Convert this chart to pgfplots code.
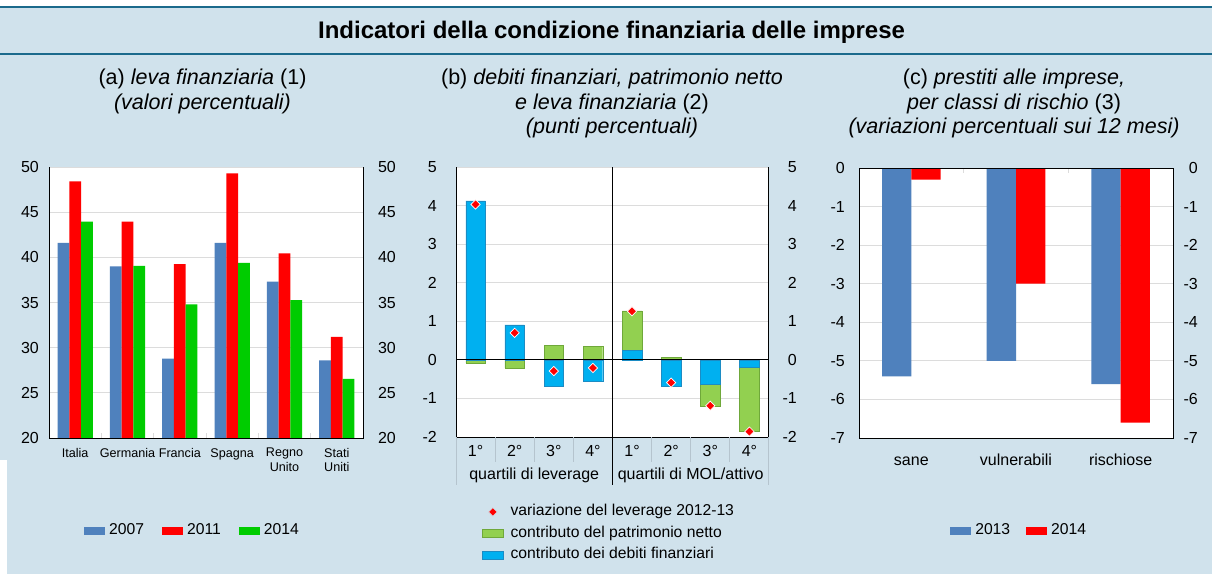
\documentclass[border=0pt]{standalone}
\usepackage{fontspec}
\setmainfont{Liberation Sans}
\usepackage{pgfplots}
\pgfplotsset{compat=1.18}
\definecolor{bgc}{HTML}{D0E2EC}
\definecolor{hdrc}{HTML}{1B6A8C}
\definecolor{aBlue}{HTML}{4F81BD}
\definecolor{aRed}{HTML}{FF0000}
\definecolor{aGreen}{HTML}{00CC00}
\definecolor{bGreen}{HTML}{92D050}
\definecolor{bGreenD}{HTML}{6FA83A}
\definecolor{bBlue}{HTML}{00B0F0}
\definecolor{bBlueD}{HTML}{1C8CC4}
\definecolor{gridc}{HTML}{DCDCDC}
\definecolor{tabc}{HTML}{B5C4CE}
\newcommand\tickfont{\fontsize{16}{19}\selectfont}
\newcommand\legfont{\fontsize{15.7}{19}\selectfont}
\newcommand\subfont{\fontsize{21.5}{24.5}\selectfont}
\pgfplotsset{
  base/.style={scale only axis, anchor=south west,
    axis background/.style={fill=white},
    axis line style={draw=none}, major tick length=0pt,
    /pgf/number format/assume math mode=true,
    yticklabel style={font=\tickfont, inner sep=0pt, anchor=east},
    ymajorgrids, grid style={gridc, line width=1pt},
    legend cell align=left,
    legend style={draw=none, fill=none, inner sep=0pt, font=\legfont,
       nodes={inner sep=0pt, text height=11pt, text depth=3.5pt}},
    legend image code/.code={\path[##1] (0pt,-4pt) rectangle (21pt,4pt);},
  },
  diamleg/.style={legend image code/.code={\draw[##1] plot coordinates {(10.5pt,0pt)};}},
  rightlab/.style={scale only axis, anchor=south west, axis line style={draw=none},
    major tick length=0pt, xtick=\empty, yticklabel pos=right,
    /pgf/number format/assume math mode=true,
    yticklabel style={font=\tickfont, inner sep=0pt, anchor=east}},
}
\begin{document}
\begin{tikzpicture}[x=1pt,y=1pt]
\useasboundingbox (0,0) rectangle (1212,574);
\fill[bgc] (0,0) rectangle (1212,574);
\fill[white] (0,567) rectangle (1212,574);
\draw[hdrc, line width=2pt] (0,567) -- (1212,567);
\draw[hdrc, line width=1.5pt] (0,520) -- (1212,520);
\fill[white] (0,0) rectangle (7,114);
\node[font=\bfseries\fontsize{24}{27}\selectfont, anchor=base] at (611.5,535) {Indicatori della condizione finanziaria delle imprese};
% subtitles
\node[font=\subfont, anchor=base] at (202.5,489) {(a) \textit{leva finanziaria} (1)};
\node[font=\subfont, anchor=base] at (202.5,464.5) {\textit{(valori percentuali)}};
\node[font=\subfont, anchor=base] at (612,489) {(b) \textit{debiti finanziari, patrimonio netto}};
\node[font=\subfont, anchor=base] at (612,464.5) {\textit{e leva finanziaria} (2)};
\node[font=\subfont, anchor=base] at (612,440) {\textit{(punti percentuali)}};
\node[font=\subfont, anchor=base] at (1014,489) {(c) \textit{prestiti alle imprese,}};
\node[font=\subfont, anchor=base] at (1014,464.5) {\textit{per classi di rischio} (3)};
\node[font=\subfont, anchor=base] at (1014,440) {\textit{(variazioni percentuali sui 12 mesi)}};

% ---------------- panel (a)
\begin{axis}[base, at={(49pt,136pt)}, width=314pt, height=271pt,
  xmin=0, xmax=6, ymin=20, ymax=50, ytick={20,25,...,50},
  yticklabel style={xshift=-10pt},
  xtick={0.5,1.5,...,5.5},
  xticklabels={Italia,Germania,Francia,Spagna,{Regno\\Unito},{Stati\\Uniti}},
  xticklabel style={font=\fontsize{12.6}{14.5}\selectfont, align=center, anchor=north, inner sep=0pt, yshift=-10pt},
  minor xtick={1,2,3,4,5}, minor tick length=5pt, minor tick style={gridc, line width=1pt},
  xtick pos=left, xticklabel pos=left,
  clip mode=individual,
  legend columns=3,
  legend style={at={(0.1115,-0.3435)}, anchor=west,
    /tikz/every odd column/.append style={column sep=4pt},
    /tikz/every even column/.append style={column sep=18pt}},
]
\addplot[ybar, bar width=0.225, bar shift=-0.225, fill=aBlue, draw=none] coordinates {(0.5,41.6)(1.5,39.0)(2.5,28.8)(3.5,41.6)(4.5,37.3)(5.5,28.6)};
\addlegendentry{2007}
\addplot[ybar, bar width=0.225, bar shift=0, fill=aRed, draw=none] coordinates {(0.5,48.4)(1.5,43.95)(2.5,39.25)(3.5,49.3)(4.5,40.45)(5.5,31.2)};
\addlegendentry{2011}
\addplot[ybar, bar width=0.225, bar shift=0.225, fill=aGreen, draw=none] coordinates {(0.5,43.95)(1.5,39.05)(2.5,34.8)(3.5,39.4)(4.5,35.25)(5.5,26.55)};
\addlegendentry{2014}
\draw[black, line width=1pt] (rel axis cs:0,1) -- (rel axis cs:0,0) -- (rel axis cs:1,0) -- (rel axis cs:1,1);
\end{axis}
\begin{axis}[rightlab, at={(49pt,136pt)}, width=314pt, height=271pt,
  xmin=0, xmax=6, ymin=20, ymax=50, ytick={20,25,...,50},
  yticklabel style={xshift=33pt}]
\addplot[draw=none, forget plot] coordinates {(0,20)};
\end{axis}

% ---------------- panel (b)
\begin{axis}[base, at={(456pt,137pt)}, width=313pt, height=270pt,
  xmin=0, xmax=8, ymin=-2, ymax=5, ytick={-2,...,5},
  yticklabel style={xshift=-19pt},
  xtick={0.5,1.5,...,7.5},
  xticklabels={1°,2°,3°,4°,1°,2°,3°,4°},
  xticklabel style={font=\tickfont, anchor=base, inner sep=0pt, yshift=-19pt},
  xtick pos=left, xticklabel pos=left,
  clip=false,
  legend style={at={(0.083,-0.25)}, anchor=north west, row sep=7pt,
    /tikz/every odd column/.append style={column sep=7pt}},
]
\addplot[ybar, bar width=0.5, bar shift=0, fill=bGreen, draw=bGreenD, forget plot] coordinates {(0.5,-0.08)(1.5,-0.21)(2.5,0.38)(3.5,0.35)(4.5,1.27)(5.5,0.06)(6.5,-1.19)(7.5,-1.86)};
\addplot[ybar, bar width=0.5, bar shift=0, fill=bBlue, draw=bBlueD, forget plot] coordinates {(0.5,4.12)(1.5,0.91)(2.5,-0.68)(3.5,-0.56)(4.5,0.24)(5.5,-0.69)(6.5,-0.63)(7.5,-0.19)};
\draw[black, line width=1pt] (rel axis cs:0,1) -- (rel axis cs:0,0) -- (rel axis cs:1,0) -- (rel axis cs:1,1);
\draw[black, line width=1pt] (axis cs:0,0) -- (axis cs:8,0);
\draw[tabc, line width=1pt] (axis cs:1,-2) -- ([yshift=-25pt]axis cs:1,-2);
\draw[tabc, line width=1pt] (axis cs:2,-2) -- ([yshift=-25pt]axis cs:2,-2);
\draw[tabc, line width=1pt] (axis cs:3,-2) -- ([yshift=-25pt]axis cs:3,-2);
\draw[tabc, line width=1pt] (axis cs:5,-2) -- ([yshift=-25pt]axis cs:5,-2);
\draw[tabc, line width=1pt] (axis cs:6,-2) -- ([yshift=-25pt]axis cs:6,-2);
\draw[tabc, line width=1pt] (axis cs:7,-2) -- ([yshift=-25pt]axis cs:7,-2);
\draw[tabc, line width=1pt] (axis cs:0,-2) -- ([yshift=-48pt]axis cs:0,-2);
\draw[tabc, line width=1pt] (axis cs:8,-2) -- ([yshift=-48pt]axis cs:8,-2);
\draw[black, line width=1pt] (axis cs:4,5) -- (axis cs:4,-2) -- ([yshift=-48pt]axis cs:4,-2);
\node[font=\tickfont, anchor=base, yshift=-42pt] at (axis cs:2,-2) {quartili di leverage};
\node[font=\tickfont, anchor=base, yshift=-42pt] at (axis cs:6,-2) {quartili di MOL/attivo};
\addplot[only marks, mark=square*, mark size=3.3pt, mark options={rotate=45, fill=red, draw=white, line width=0.7pt}, forget plot] coordinates {(0.5,4.03)(1.5,0.70)(2.5,-0.29)(3.5,-0.21)(4.5,1.26)(5.5,-0.59)(6.5,-1.19)(7.5,-1.86)};
\addlegendimage{only marks, mark=square*, mark size=3pt, mark options={rotate=45, fill=red, draw=bgc, line width=0.5pt}, diamleg}
\addlegendentry{variazione del leverage 2012-13}
\addlegendimage{fill=bGreen, draw=bGreenD}
\addlegendentry{contributo del patrimonio netto}
\addlegendimage{fill=bBlue, draw=bBlueD}
\addlegendentry{contributo dei debiti finanziari}
\end{axis}
\begin{axis}[rightlab, at={(456pt,137pt)}, width=313pt, height=270pt,
  xmin=0, xmax=8, ymin=-2, ymax=5, ytick={-2,...,5},
  yticklabel style={xshift=28pt}]
\addplot[draw=none, forget plot] coordinates {(0,0)};
\end{axis}

% ---------------- panel (c)
\begin{axis}[base, at={(859pt,136pt)}, width=314pt, height=270pt,
  xmin=0, xmax=3, ymin=-7, ymax=0, ytick={-7,...,0},
  yticklabel style={xshift=-14pt},
  xtick={0.5,1.5,2.5},
  xticklabels={sane,vulnerabili,rischiose},
  xticklabel style={font=\tickfont, anchor=base, inner sep=0pt, yshift=-27pt},
  minor xtick={1,2}, minor tick length=5pt, minor tick style={gridc, line width=1pt},
  xtick pos=right, xticklabel pos=left,
  clip mode=individual,
  legend columns=2,
  legend style={at={(0.29,-0.3445)}, anchor=west,
    /tikz/every odd column/.append style={column sep=4pt},
    /tikz/every even column/.append style={column sep=16pt}},
]
\addplot[ybar, bar width=0.28, bar shift=-0.14, fill=aBlue, draw=none] coordinates {(0.5,-5.4)(1.5,-5.0)(2.5,-5.6)};
\addlegendentry{2013}
\addplot[ybar, bar width=0.28, bar shift=0.14, fill=aRed, draw=none] coordinates {(0.5,-0.3)(1.5,-3.0)(2.5,-6.6)};
\addlegendentry{2014}
\draw[black, line width=1pt] (rel axis cs:0,0) rectangle (rel axis cs:1,1);
\end{axis}
\begin{axis}[rightlab, at={(859pt,136pt)}, width=314pt, height=270pt,
  xmin=0, xmax=3, ymin=-7, ymax=0, ytick={-7,...,0},
  yticklabel style={xshift=25pt}]
\addplot[draw=none, forget plot] coordinates {(0,0)};
\end{axis}
\end{tikzpicture}
\end{document}
